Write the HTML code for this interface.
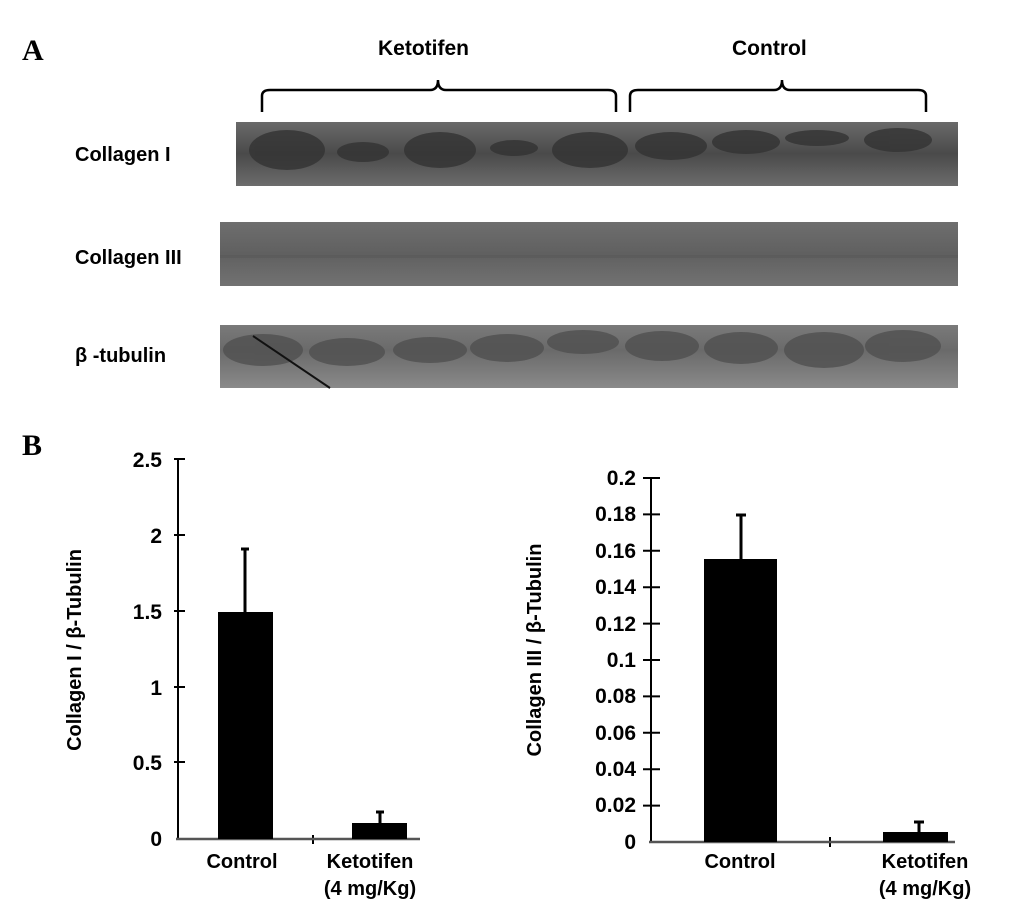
<!DOCTYPE html>
<html><head><style>
body{margin:0;background:#fff;}
svg text{font-family:"Liberation Sans",sans-serif;font-weight:bold;}
</style></head><body>
<svg width="1033" height="915" viewBox="0 0 1033 915" xmlns="http://www.w3.org/2000/svg">
<defs>
<linearGradient id="g1" x1="0" y1="0" x2="0" y2="1"><stop offset="0" stop-color="#6a6a6a"/><stop offset="0.5" stop-color="#4a4a4a"/><stop offset="1" stop-color="#6c6c6c"/></linearGradient>
<linearGradient id="g3" x1="0" y1="0" x2="0" y2="1"><stop offset="0" stop-color="#6e6e6e"/><stop offset="0.5" stop-color="#606060"/><stop offset="1" stop-color="#727272"/></linearGradient>
<linearGradient id="gt" x1="0" y1="0" x2="0" y2="1"><stop offset="0" stop-color="#7a7a7a"/><stop offset="0.4" stop-color="#6a6a6a"/><stop offset="1" stop-color="#8a8a8a"/></linearGradient>
</defs>
<text x="22" y="60" font-size="30" style="font-family:'Liberation Serif',serif">A</text>
<text x="22" y="455" font-size="30" style="font-family:'Liberation Serif',serif">B</text>
<text x="378" y="55" font-size="21">Ketotifen</text>
<text x="732" y="55" font-size="21">Control</text>
<path d="M262,112 V96 Q262,90 270,90 H430 Q438,90 438,80 Q438,90 446,90 H608 Q616,90 616,96 V112" fill="none" stroke="#000" stroke-width="2.5"/>
<path d="M630,112 V96 Q630,90 638,90 H774 Q782,90 782,80 Q782,90 790,90 H918 Q926,90 926,96 V112" fill="none" stroke="#000" stroke-width="2.5"/>
<text x="75" y="161" font-size="20">Collagen I</text>
<text x="75" y="264" font-size="20">Collagen III</text>
<text x="75" y="362" font-size="20">β -tubulin</text>
<rect x="236" y="122" width="722" height="64" fill="url(#g1)"/>
<g fill="#333" opacity="0.8">
<ellipse cx="287" cy="150" rx="38" ry="20"/><ellipse cx="363" cy="152" rx="26" ry="10"/><ellipse cx="440" cy="150" rx="36" ry="18"/><ellipse cx="514" cy="148" rx="24" ry="8"/><ellipse cx="590" cy="150" rx="38" ry="18"/><ellipse cx="671" cy="146" rx="36" ry="14"/><ellipse cx="746" cy="142" rx="34" ry="12"/><ellipse cx="817" cy="138" rx="32" ry="8"/><ellipse cx="898" cy="140" rx="34" ry="12"/>
</g>
<rect x="220" y="222" width="738" height="64" fill="url(#g3)"/>
<rect x="220" y="255" width="738" height="3" fill="#555" opacity="0.5"/>
<rect x="220" y="325" width="738" height="63" fill="url(#gt)"/>
<g fill="#505050" opacity="0.8">
<ellipse cx="263" cy="350" rx="40" ry="16"/><ellipse cx="347" cy="352" rx="38" ry="14"/><ellipse cx="430" cy="350" rx="37" ry="13"/><ellipse cx="507" cy="348" rx="37" ry="14"/><ellipse cx="583" cy="342" rx="36" ry="12"/><ellipse cx="662" cy="346" rx="37" ry="15"/><ellipse cx="741" cy="348" rx="37" ry="16"/><ellipse cx="824" cy="350" rx="40" ry="18"/><ellipse cx="903" cy="346" rx="38" ry="16"/>
</g>
<line x1="253" y1="336" x2="330" y2="388" stroke="#111" stroke-width="2"/>
<!-- chart 1 -->
<g stroke="#000" stroke-width="2">
<line x1="178" y1="459" x2="178" y2="839"/>
<line x1="174" y1="459" x2="185" y2="459"/><line x1="174" y1="535" x2="185" y2="535"/><line x1="174" y1="611" x2="185" y2="611"/><line x1="174" y1="687" x2="185" y2="687"/><line x1="174" y1="762" x2="185" y2="762"/>
<line x1="313" y1="835" x2="313" y2="844"/>
</g>
<line x1="176" y1="839" x2="420" y2="839" stroke="#555" stroke-width="2.5"/>
<rect x="218" y="612" width="55" height="227" fill="#000"/>
<rect x="352" y="823" width="55" height="16" fill="#000"/>
<g stroke="#000" stroke-width="3"><line x1="245" y1="612" x2="245" y2="549"/><line x1="241" y1="549" x2="249" y2="549"/><line x1="380" y1="823" x2="380" y2="812"/><line x1="376" y1="812" x2="384" y2="812"/></g>
<g font-size="21" text-anchor="end">
<text x="162" y="467">2.5</text><text x="162" y="543">2</text><text x="162" y="619">1.5</text><text x="162" y="695">1</text><text x="162" y="770">0.5</text><text x="162" y="846">0</text>
</g>
<text transform="translate(81,650) rotate(-90)" font-size="20" text-anchor="middle">Collagen I / β-Tubulin</text>
<g font-size="20" text-anchor="middle"><text x="242" y="868">Control</text><text x="370" y="868">Ketotifen</text><text x="370" y="895">(4 mg/Kg)</text></g>
<!-- chart 2 -->
<g stroke="#000" stroke-width="2">
<line x1="651" y1="478" x2="651" y2="842"/>
<line x1="643" y1="478" x2="660" y2="478"/><line x1="643" y1="514.4" x2="660" y2="514.4"/><line x1="643" y1="550.8" x2="660" y2="550.8"/><line x1="643" y1="587.2" x2="660" y2="587.2"/><line x1="643" y1="623.6" x2="660" y2="623.6"/><line x1="643" y1="660" x2="660" y2="660"/><line x1="643" y1="696.4" x2="660" y2="696.4"/><line x1="643" y1="732.8" x2="660" y2="732.8"/><line x1="643" y1="769.2" x2="660" y2="769.2"/><line x1="643" y1="805.6" x2="660" y2="805.6"/>
<line x1="830" y1="837" x2="830" y2="847"/>
</g>
<line x1="649" y1="842" x2="955" y2="842" stroke="#555" stroke-width="2.5"/>
<rect x="704" y="559" width="73" height="283" fill="#000"/>
<rect x="883" y="832" width="65" height="10" fill="#000"/>
<g stroke="#000" stroke-width="3"><line x1="741" y1="559" x2="741" y2="515"/><line x1="736" y1="515" x2="746" y2="515"/><line x1="919" y1="832" x2="919" y2="822"/><line x1="914" y1="822" x2="924" y2="822"/></g>
<g font-size="21" text-anchor="end">
<text x="636" y="485">0.2</text><text x="636" y="521">0.18</text><text x="636" y="558">0.16</text><text x="636" y="594">0.14</text><text x="636" y="631">0.12</text><text x="636" y="667">0.1</text><text x="636" y="703">0.08</text><text x="636" y="740">0.06</text><text x="636" y="776">0.04</text><text x="636" y="812">0.02</text><text x="636" y="849">0</text>
</g>
<text transform="translate(541,650) rotate(-90)" font-size="20" text-anchor="middle">Collagen III / β-Tubulin</text>
<g font-size="20" text-anchor="middle"><text x="740" y="868">Control</text><text x="925" y="868">Ketotifen</text><text x="925" y="895">(4 mg/Kg)</text></g>
</svg>
</body></html>
